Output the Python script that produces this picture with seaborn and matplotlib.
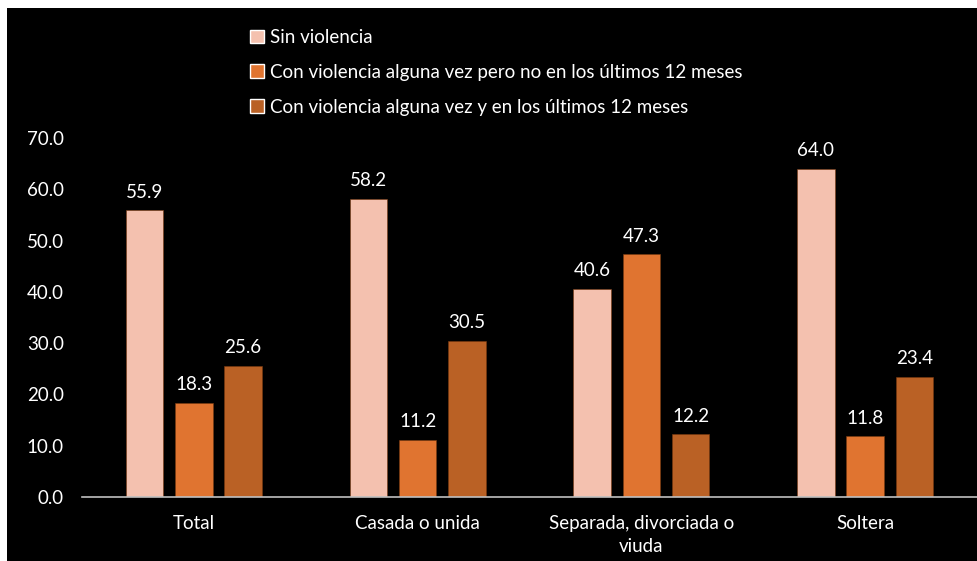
import pandas as pd
import matplotlib.pyplot as plt
import seaborn as sns
from matplotlib.patches import Rectangle

# Data
categorias = ['Total', 'Casada o unida', 'Separada, divorciada o\nviuda', 'Soltera']
series = ['Sin violencia',
          'Con violencia alguna vez pero no en los últimos 12 meses',
          'Con violencia alguna vez y en los últimos 12 meses']
sin_violencia = [55.9, 58.2, 40.6, 64.0]
alguna_vez_no_12 = [18.3, 11.2, 47.3, 11.8]
alguna_vez_si_12 = [25.6, 30.5, 12.2, 23.4]
colores = ['#F4C1AF', '#E07430', '#BA6125']

df = pd.DataFrame({
    'Categoria': categorias * 3,
    'Serie': [series[0]] * 4 + [series[1]] * 4 + [series[2]] * 4,
    'Valor': sin_violencia + alguna_vez_no_12 + alguna_vez_si_12,
})

sns.set_style('white')
plt.rcParams['font.family'] = ['Lato', 'DejaVu Sans']

fig = plt.figure(figsize=(9.77, 5.61), dpi=100)
fig.patch.set_facecolor('white')
# black panel behind the chart
fig.patches.append(Rectangle((7 / 977, 0), 1 - 7 / 977, 553 / 561,
                             transform=fig.transFigure, facecolor='black',
                             edgecolor='none', zorder=-10))

ax = fig.add_axes([82 / 977, 1 - 497 / 561, 1 - 82 / 977, (497 - 138) / 561])
ax.set_facecolor('black')

sns.barplot(data=df, x='Categoria', y='Valor', hue='Serie', palette=colores,
            width=0.66, gap=0.24, ax=ax, legend=False, saturation=1,
            edgecolor='#7a3a10', linewidth=0.4)

for cont in ax.containers:
    ax.bar_label(cont, fmt='%.1f', padding=7, color='white', fontsize=13.5)

ax.set_ylim(0, 70)
ax.set_xlim(-0.5, 3.5)
ax.set_yticks(range(0, 71, 10))
ax.set_yticklabels([f'{v:.1f}' for v in range(0, 71, 10)])
ax.set_xlabel('')
ax.set_ylabel('')
ax.tick_params(axis='both', colors='white', labelsize=13.5, length=0)
ax.tick_params(axis='y', pad=13)
ax.tick_params(axis='x', pad=13)
for lbl in ax.get_xticklabels():
    lbl.set_linespacing(1.45)
for s in ['top', 'right', 'left']:
    ax.spines[s].set_visible(False)
ax.spines['bottom'].set_color('#BFBFBF')
ax.spines['bottom'].set_linewidth(1.2)

handles = [Rectangle((0, 0), 1, 1, facecolor=c) for c in colores]
leg = fig.legend(handles, series, loc='upper left',
                 bbox_to_anchor=(250 / 977, 1 - 29 / 561), frameon=False,
                 fontsize=13.5, labelcolor='white', handlelength=0.75,
                 handleheight=0.75, handletextpad=0.3, labelspacing=0.95,
                 borderpad=0, borderaxespad=0)

fig.savefig('out.png', dpi=100, facecolor=fig.get_facecolor())
